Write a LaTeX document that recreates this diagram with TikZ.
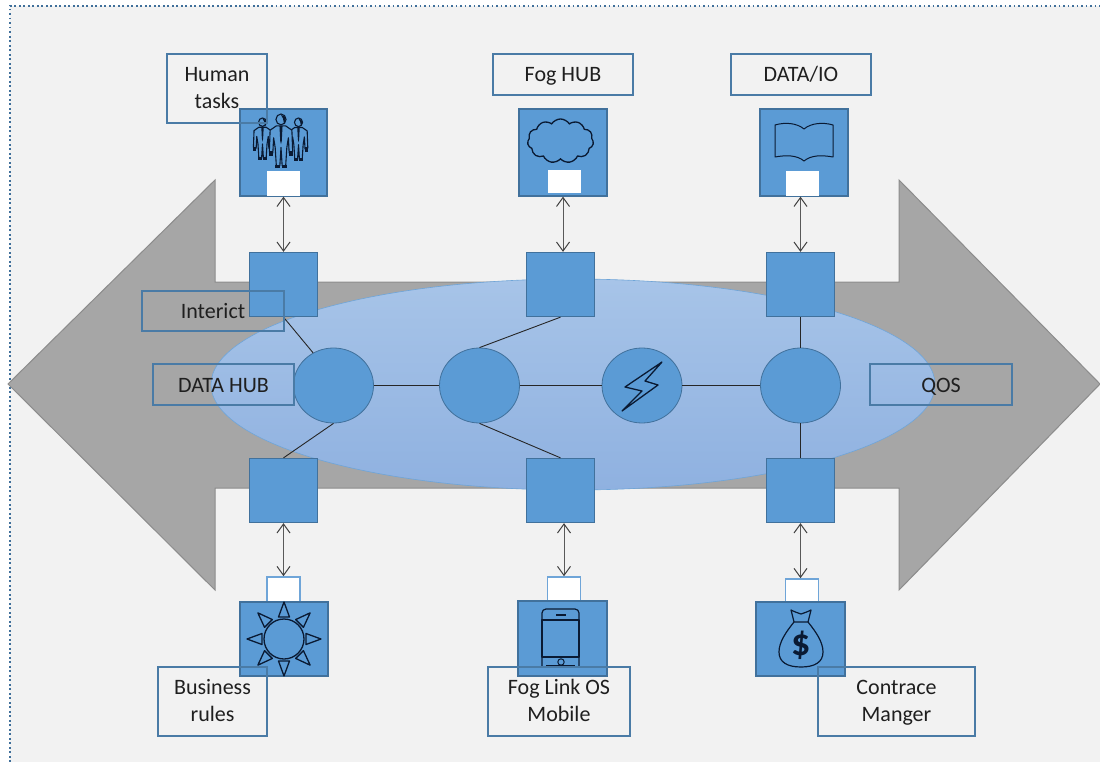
\documentclass[tikz,border=0pt]{standalone}
\usepackage{fontspec}
\setmainfont{Carlito}
\usetikzlibrary{arrows.meta,shapes.symbols,shapes.geometric}
\definecolor{bgc}{HTML}{F2F2F2}
\definecolor{arrowc}{HTML}{A6A6A6}
\definecolor{arrowe}{HTML}{8C8C8C}
\definecolor{boxc}{HTML}{5B9BD5}
\definecolor{boxe}{HTML}{41719C}
\definecolor{labe}{HTML}{4A7BA6}
\definecolor{txtc}{HTML}{1F1F1F}
\definecolor{icone}{HTML}{0A1A33}
\definecolor{dote}{HTML}{3F6F9A}
\definecolor{whe}{HTML}{6FA5D8}
\definecolor{elltop}{HTML}{A7C4E8}
\definecolor{ellbot}{HTML}{8FB1E0}
\newcommand{\lnstrut}{\rule[-7pt]{0pt}{27pt}}
\tikzset{
  x=1pt,y=-1pt,
  sq/.style={draw=boxe,fill=boxc,line width=1.3pt,minimum width=68pt,minimum height=64pt,inner sep=0pt},
  iconbox/.style={draw=boxe,fill=boxc,line width=1.3pt,inner sep=0pt},
  whitebox/.style={draw=#1,fill=white,line width=1.6pt,minimum width=33pt,inner sep=0pt},
  disc/.style={ellipse,draw=boxe,fill=boxc,line width=.8pt,minimum width=80pt,minimum height=75pt,inner sep=0pt},
  lab/.style={draw=labe,line width=1.4pt,inner sep=0pt,align=center,text=txtc,font=\fontsize{22}{27}\selectfont},
  labone/.style={lab,text height=16pt,text depth=1pt},
  link/.style={draw=black!85,line width=.9pt},
  dbl/.style={draw=black!65,line width=1pt,{Straight Barb[length=9pt,width=13pt,black!75]}-{Straight Barb[length=9pt,width=13pt,black!75]}},
  ic/.style={draw=icone,line width=1.2pt,line join=round},
}
\begin{document}
\begin{tikzpicture}
\useasboundingbox (0,0) rectangle (1100,762);
\fill[white] (0,0) rectangle (1100,762);
\fill[bgc] (10,6) rectangle (1100,762);
\draw[dote,line width=1.6pt,dash pattern=on 1.6pt off 2.9pt] (10,762) -- (10,6) -- (1100,6);
% big double arrow
\path[fill=arrowc,draw=arrowe,line width=1pt,line join=miter]
  (8,384) -- (215,180) -- (215,282) -- (899,282) -- (899,180) -- (1100,384)
  -- (899,590) -- (899,488) -- (215,488) -- (215,590) -- cycle;
% ellipse
\node[ellipse,minimum width=724pt,minimum height=211pt,inner sep=0pt,draw=whe,line width=.6pt,
  top color=elltop,bottom color=ellbot] (ell) at (573,384.5) {};
% squares
\node[sq] (st1) at (283.5,284.5) {};
\node[sq] (st2) at (560.5,284.5) {};
\node[sq] (st3) at (800.5,284.5) {};
\node[sq] (sb1) at (283.5,490.5) {};
\node[sq] (sb2) at (560.5,490.5) {};
\node[sq] (sb3) at (800.5,490.5) {};
% circles
\node[disc] (c1) at (333.5,385.5) {};
\node[disc] (c2) at (479.5,385.5) {};
\node[disc] (c3) at (642,385.5) {};
\node[disc] (c4) at (800.5,385.5) {};
% connectors
\draw[link] (c1) -- (c2);
\draw[link] (c2) -- (c3);
\draw[link] (c3) -- (c4);
\draw[link] (st1.south) -- (c1.122);
\draw[link] (sb1.north) -- (c1.south);
\draw[link] (st2.south) -- (c2.north);
\draw[link] (sb2.north) -- (c2.south);
\draw[link] (st3.south) -- (c4.north);
\draw[link] (sb3.north) -- (c4.south);
% icon boxes
\node[iconbox,minimum width=87pt,minimum height=87pt] (it1) at (283.5,152.5) {};
\node[iconbox,minimum width=88pt,minimum height=87pt] (it2) at (563,152.5) {};
\node[iconbox,minimum width=88pt,minimum height=87pt] (it3) at (804,152.5) {};
\node[whitebox=white,line width=.5pt,minimum width=31.5pt,minimum height=24pt] (wt1) at (283,183.5) {};
\node[whitebox=white,line width=.5pt,minimum width=31.5pt,minimum height=22.5pt] (wt2) at (564,181.5) {};
\node[whitebox=white,line width=.5pt,minimum width=31.5pt,minimum height=24pt] (wt3) at (802,183.5) {};
\node[whitebox=whe,minimum height=25pt] (wb1) at (283.5,589.5) {};
\node[whitebox=whe,minimum height=25pt] (wb2) at (564,589.5) {};
\node[whitebox=whe,minimum height=23pt] (wb3) at (802,590.5) {};
\node[iconbox,minimum width=88pt,minimum height=74pt] (ib1) at (284,639) {};
\node[iconbox,minimum width=89pt,minimum height=75pt] (ib2) at (562.5,638.5) {};
\node[iconbox,minimum width=89pt,minimum height=74pt] (ib3) at (800.5,639) {};
% double arrows
\draw[dbl] (it1.south) -- (it1.south |- st1.north);
\draw[dbl] (it2.south) -- (it2.south |- st2.north);
\draw[dbl] (it3.south -| st3.north) -- (st3.north);
\draw[dbl] (sb1.south) -- (sb1.south |- wb1.north);
\draw[dbl] (sb2.south -| wb2.north) -- (wb2.north);
\draw[dbl] (sb3.south) -- (sb3.south |- wb3.north);
% people icon
\foreach \cx/\cy/\s in {262.5/118/42,298.5/118/43,281/114/54}{
  \begin{scope}[shift={(\cx,\cy)},x=.72*\s pt,y=-\s pt]
    \draw[ic,fill=boxc,line width=1.1pt] (0,.10) ellipse (.13 and .10);
    \draw[ic,fill=boxc,line width=1.1pt] (-.12,.22) -- (-.28,.30) -- (-.30,.70) -- (-.21,.72) -- (-.19,.44)
      -- (-.15,.62) -- (-.12,.96) -- (-.03,.96) -- (0,.62) -- (.03,.96) -- (.12,.96) -- (.15,.62) -- (.19,.44)
      -- (.21,.72) -- (.30,.70) -- (.28,.30) -- (.12,.22) -- cycle;
    \fill[icone] (-.15,.94) rectangle (-.02,1);
    \fill[icone] (.02,.94) rectangle (.15,1);
    \fill[icone] (-.31,.68) rectangle (-.20,.78);
    \fill[icone] (.20,.68) rectangle (.31,.78);
    \fill[icone] (-.04,.22) -- (.04,.22) -- (.02,.50) -- (0,.56) -- (-.02,.50) -- cycle;
    \fill[icone] (.0,.02) .. controls (.14,.02) and (.14,.12) .. (.08,.19) -- (.05,.08) -- cycle;
  \end{scope}
}
% cloud icon
\node[cloud,draw=icone,line width=1.3pt,cloud puffs=11,cloud puff arc=115,aspect=1.5,
  minimum width=66pt,minimum height=44pt,inner sep=0pt] (cloudicon) at (560.5,141) {};
% book icon
\draw[ic,line width=1pt] (775,125) .. controls (785,122) and (797,123) .. (804,129)
  .. controls (811,123) and (823,122) .. (833,125) -- (833,157)
  .. controls (822,155) and (811,155) .. (804,161)
  .. controls (797,155) and (786,155) .. (775,157) -- cycle;
% sun icon
\draw[ic,line width=1.3pt] (284,639) circle (20);
\foreach \a in {0,45,...,315}{
  \begin{scope}[shift={(284,639)},rotate=\a]
    \draw[ic,line width=1.3pt] (-5.5,-22) -- (0,-37) -- (5.5,-22) -- cycle;
  \end{scope}
}
% phone icon
\draw[ic,rounded corners=4pt] (542,666) -- (542,609) -- (579,609) -- (579,666);
\draw[ic] (542,620) rectangle (579,657);
\draw[ic,line width=1.6pt] (556,615) -- (566,615);
\draw[ic,line width=1pt] (561,662) circle (3.2);
\draw[ic] (546,666) -- (575,666);
% money icon
\draw[ic] (794,622) .. controls (786,632) and (779,642) .. (779,652)
  .. controls (779,662) and (787,667) .. (801,667)
  .. controls (815,667) and (823,662) .. (823,652)
  .. controls (823,642) and (816,632) .. (808,622) -- cycle;
\draw[ic] (794,622) -- (791,610) .. controls (795,612) and (798,613) .. (801,614)
  .. controls (804,613) and (807,612) .. (811,610) -- (808,622);
\node[text=icone,inner sep=0pt,font=\fontsize{38}{38}\selectfont\bfseries] (dollar) at (801,645) {\$};
% bolt icon
\draw[ic,line width=1.3pt] (662,362) -- (625,387) -- (642,391) -- (622,411) -- (658,385) -- (645,381) -- cycle;
% labels
\node[lab,minimum width=100pt,minimum height=69pt] (l1) at (217,88.5) {\lnstrut Human\\\lnstrut tasks};
\node[labone,minimum width=140pt,minimum height=41pt] (l2) at (563,74.5) {Fog HUB};
\node[labone,minimum width=140pt,minimum height=41pt] (l3) at (801,74.5) {DATA/IO};
\node[labone,minimum width=142pt,minimum height=40pt] (l4) at (213,311) {Interict};
\node[labone,minimum width=141pt,minimum height=41pt] (l5) at (223.5,384.5) {DATA HUB};
\node[labone,minimum width=142pt,minimum height=41pt] (l6) at (941,384.5) {QOS};
\node[lab,minimum width=109pt,minimum height=69pt] (l7) at (212.5,701.5) {\lnstrut Business\\\lnstrut rules};
\node[lab,minimum width=142pt,minimum height=69pt] (l8) at (559,701.5) {\lnstrut Fog Link OS\\\lnstrut Mobile};
\node[lab,minimum width=157pt,minimum height=69pt] (l9) at (896.5,701.5) {\lnstrut Contrace\\\lnstrut Manger};
\end{tikzpicture}
\end{document}
